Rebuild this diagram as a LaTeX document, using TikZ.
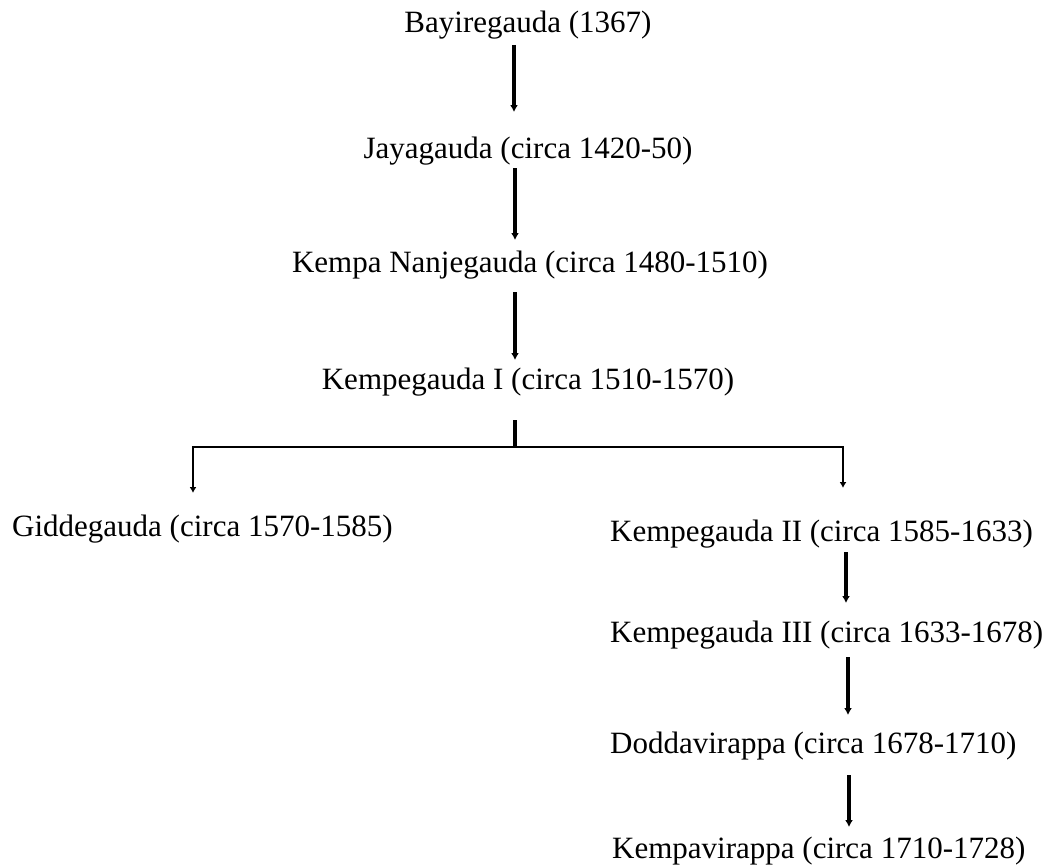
\documentclass[tikz,border=0pt]{standalone}
\usepackage{fontspec}
\setmainfont{Liberation Serif}
\usetikzlibrary{arrows.meta,calc}
\tikzset{
  lbl/.style={font=\fontsize{31}{37}\selectfont, inner sep=0pt, anchor=base},
  rlbl/.style={lbl, anchor=base west},
  link/.style={line width=3.2pt, line cap=butt},
  thinlink/.style={line width=2.2pt, line cap=butt},
  arr/.style={link, -{Latex[length=7pt,width=8pt]}},
  thinarr/.style={thinlink, -{Latex[length=6pt,width=7pt]}}
}
\begin{document}
\begin{tikzpicture}[x=1pt,y=-1pt]
\useasboundingbox (0,0) rectangle (1055,867);
% nodes
\node[lbl] (bay) at (528,33) {Bayiregauda (1367)};
\node[lbl] (jay) at (528,158) {Jayagauda (circa 1420-50)};
\node[lbl] (nan) at (530,272) {Kempa Nanjegauda (circa 1480-1510)};
\node[lbl] (k1) at (528,389) {Kempegauda I (circa 1510-1570)};
\node[rlbl] (gid) at (12,536) {Giddegauda (circa 1570-1585)};
\node[rlbl] (k2) at (610,541) {Kempegauda II (circa 1585-1633)};
\node[rlbl] (k3) at (610,642) {Kempegauda III (circa 1633-1678)};
\node[rlbl] (dod) at (610,753) {Doddavirappa (circa 1678-1710)};
\node[rlbl] (kv) at (612,858) {Kempavirappa (circa 1710-1728)};
% trunk coordinates
\coordinate (t0) at (514,0);
\coordinate (t1) at (515,0);
\coordinate (bm) at (515,447);
\coordinate (bl) at (193,447);
\coordinate (br) at (843,447);
\coordinate (r1) at (846,0);
\coordinate (r2) at (848,0);
\coordinate (r3) at (849,0);
% connectors
\draw[arr] ($(bay.base -| t0)+(0,12)$) -- ($(jay.base -| t0)+(0,-46)$);
\draw[arr] ($(jay.base -| t1)+(0,10)$) -- ($(nan.base -| t1)+(0,-32)$);
\draw[arr] ($(nan.base -| t1)+(0,20)$) -- ($(k1.base -| t1)+(0,-29)$);
\draw[link] ($(k1.base -| bm)+(0,31)$) -- (bm);
\draw[thinlink] ([xshift=-1.1pt]bl) -- ([xshift=1.1pt]br);
\draw[thinarr] ([yshift=-1.1pt]bl) -- ($(gid.base -| bl)+(0,-43)$);
\draw[thinarr] ([yshift=-1.1pt]br) -- ($(k2.base -| br)+(0,-53)$);
\draw[arr] ($(k2.base -| r1)+(0,11)$) -- ($(k3.base -| r1)+(0,-39)$);
\draw[arr] ($(k3.base -| r2)+(0,15)$) -- ($(dod.base -| r2)+(0,-38)$);
\draw[arr] ($(dod.base -| r3)+(0,22)$) -- ($(kv.base -| r3)+(0,-31)$);
\end{tikzpicture}
\end{document}
